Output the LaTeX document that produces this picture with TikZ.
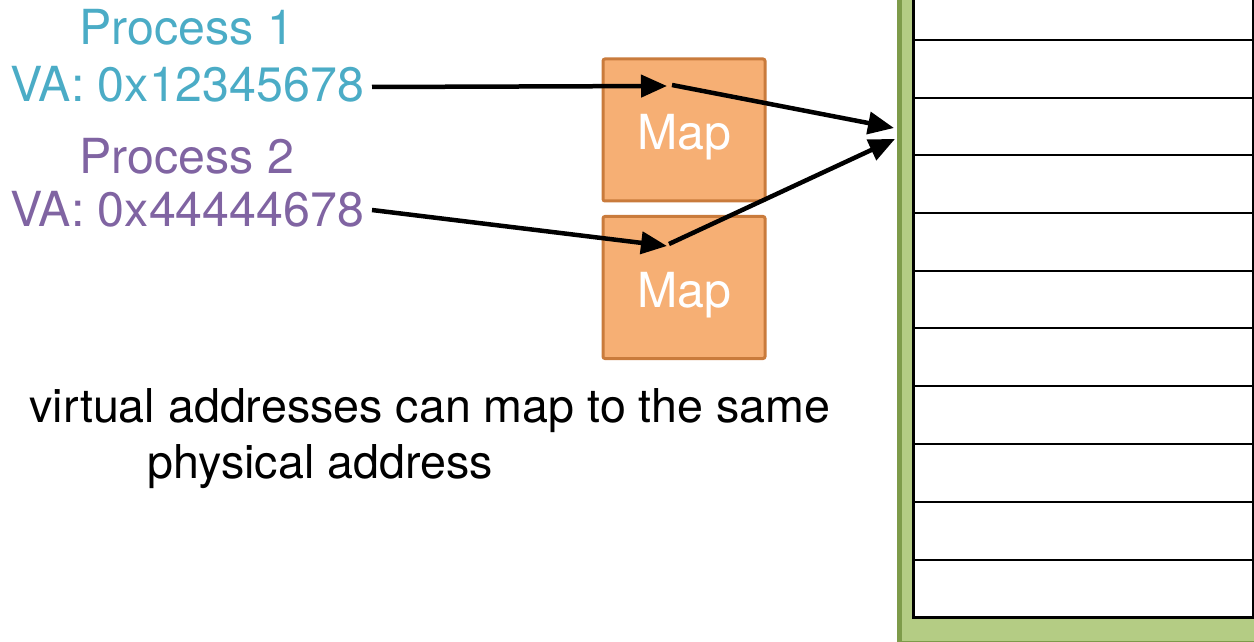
\documentclass[tikz,border=0pt]{standalone}
\usepackage{fontspec}
\setmainfont{TeX Gyre Heros}
\usetikzlibrary{arrows.meta}
\definecolor{teal}{HTML}{4BACC6}
\definecolor{violet}{HTML}{8064A2}
\definecolor{mapfill}{HTML}{F6AF74}
\definecolor{mapedge}{HTML}{C97B3C}
\definecolor{memgreen}{HTML}{B4CC84}
\definecolor{memdark}{HTML}{7E9B4A}
\tikzset{
  big/.style={font=\fontsize{48.5}{56}\selectfont, inner sep=0pt},
  capt/.style={font=\fontsize{46.8}{56}\selectfont, inner sep=0pt},
  mapbox/.style={draw=mapedge, line width=3bp, fill=mapfill, rounded corners=2bp,
    minimum width=162bp, minimum height=142bp, inner sep=0pt,
    text height=40bp, text depth=0bp,
    text=white, font=\fontsize{48.5}{56}\selectfont},
  link/.style={line width=4.5bp, -{Triangle[length=26bp,width=22bp]}},
}
\begin{document}
\begin{tikzpicture}[x=1bp,y=-1bp]
\useasboundingbox (0,0) rectangle (1254,642);

% physical memory frame
\fill[memgreen] (897,-10) rectangle (1264,641);
\fill[memdark] (897,-10) rectangle (902,641);
\draw[memdark, line width=1bp] (897,641) -- (1264,641);
\fill[white] (913,-20) rectangle (1253,617);
\foreach \y in {40,98,155,213,271,328,386,444,502,560}
  \draw[line width=2.5bp] (913,\y) -- (1253,\y);
\draw[line width=3bp] (913,-20) rectangle (1253,617);
\coordinate (memA) at (894,128);
\coordinate (memB) at (895,139);

% process labels
\node[big, text=teal, anchor=base] (p1) at (187,45) {Process 1};
\node[big, text=teal, anchor=base] (p1va) at (187,102) {VA: 0x12345678};
\node[big, text=violet, anchor=base] (p2) at (187,174) {Process 2};
\node[big, text=violet, anchor=base] (p2va) at (187,227) {VA: 0x44444678};

% translation boxes
\node[mapbox] (map1) at (684,130) {Map};
\node[mapbox] (map2) at (684,287.5) {Map};
\coordinate (in1) at (667,86);
\coordinate (out1) at (672,85);
\coordinate (in2) at (667,246);
\coordinate (out2) at (669,244);
\coordinate (src1) at (372,87);
\coordinate (src2) at (372,210);

\draw[link] (src1) -- (in1);
\draw[link] (out1) -- (memA);
\draw[link] (src2) -- (in2);
\draw[link] (out2) -- (memB);

% caption
\node[capt, anchor=base] (cap1) at (430,422) {virtual addresses can map to the same};
\node[capt, anchor=base] (cap2) at (320,478) {physical address};
\end{tikzpicture}
\end{document}
